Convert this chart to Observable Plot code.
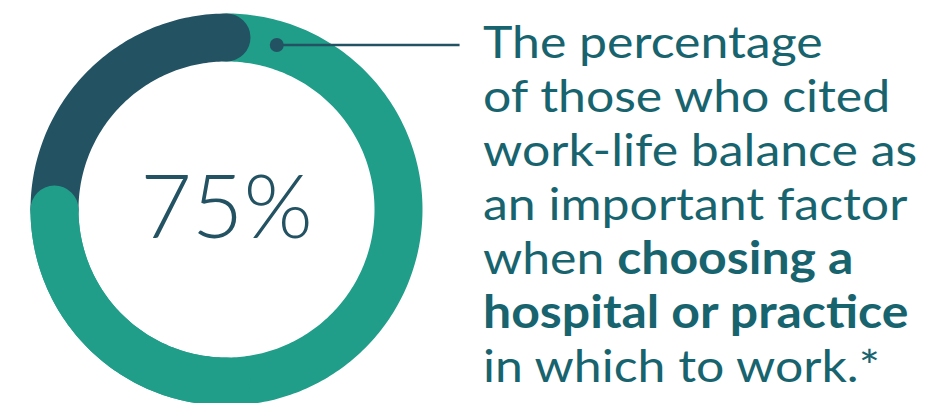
<!DOCTYPE html>
<html><head><meta charset="utf-8">
<script src="https://cdn.jsdelivr.net/npm/d3@7"></script>
<script src="https://cdn.jsdelivr.net/npm/@observablehq/plot@0.6"></script>
<style>
html,body{margin:0;padding:0;background:#fff;}
#wrap{position:relative;width:932px;height:403px;overflow:hidden;}
#chart{position:absolute;left:0;top:0;}
#caption{position:absolute;left:483px;top:14px;font-family:Lato,sans-serif;font-size:45px;line-height:54px;color:#17646f;white-space:nowrap;transform:scaleX(1.11);transform-origin:0 0;}
#caption b{font-weight:700;}
</style></head><body>
<div id="wrap"><div id="chart"></div><div id="caption"></div></div>
<script>
// ---- data ----
const categories = ["Cited work-life balance", "Did not cite it"];
const values = [75, 25];
const colors = ["#209e89", "#235263"];
const centerLabel = "75%";
const annotationAngle = 17;   // degrees clockwise from 12 o'clock, where the leader starts
const captionLines = [
  [["The percentage", false]],
  [["of those who cited", false]],
  [["work-life balance as", false]],
  [["an important factor", false]],
  [["when ", false], ["choosing a", true]],
  [["hospital or practice", true]],
  [["in which to work.*", false]]
];

// ---- geometry from values ----
const total = d3.sum(values);
let acc = 0;
const segments = values.map((v, i) => {
  const a0 = acc / total * 360; acc += v; const a1 = acc / total * 360;
  return {category: categories[i], a0, a1, color: colors[i]};
});
function arcPoints(a0, a1) {
  const n = Math.max(2, Math.ceil(a1 - a0));
  return d3.range(n + 1).map(i => {
    const a = (a0 + (a1 - a0) * i / n) * Math.PI / 180;
    return {x: Math.sin(a), y: Math.cos(a)};
  });
}
const arcMark = (a0, a1, color) => Plot.line(arcPoints(a0, a1), {
  x: "x", y: "y", stroke: color, strokeWidth: 48, strokeLinecap: "round", strokeLinejoin: "round"
});
const first = segments[0], last = segments[segments.length - 1];
const marks = [
  ...segments.map(s => arcMark(s.a0, s.a1, s.color)),
  // re-draw tail of first segment so its rounded end sits over the last segment
  arcMark(first.a1 - 90, first.a1, first.color)
];
const ar = annotationAngle * Math.PI / 180;
const anno = [{x: Math.sin(ar), y: Math.cos(ar), x2: 1.355}];
marks.push(
  Plot.link(anno, {x1: "x", y1: "y", x2: "x2", y2: "y", stroke: last.color, strokeWidth: 2.6}),
  Plot.dot(anno, {x: "x", y: "y", r: 7, fill: last.color, stroke: "none"}),
  Plot.text([{x: 0, y: 0, label: centerLabel}], {
    x: "x", y: "y", text: "label", fontSize: 89, fontWeight: 300, fontFamily: "Lato",
    fill: last.color, lineAnchor: "middle", textAnchor: "middle"
  })
);

const chart = Plot.plot({
  width: 932, height: 403, margin: 0,
  x: {domain: [-1, 1], range: [54, 398], axis: null},
  y: {domain: [-1, 1], range: [381, 37], axis: null},
  style: {background: "transparent", overflow: "visible"},
  marks
});
document.getElementById("chart").appendChild(chart);

const cap = document.getElementById("caption");
captionLines.forEach(line => {
  const div = document.createElement("div");
  line.forEach(([t, bold]) => {
    const el = document.createElement(bold ? "b" : "span");
    el.textContent = t;
    div.appendChild(el);
  });
  cap.appendChild(div);
});
</script>
</body></html>
